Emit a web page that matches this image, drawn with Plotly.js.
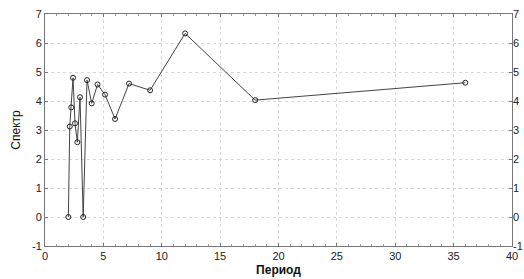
<!DOCTYPE html>
<html>
<head>
<meta charset="utf-8">
<script src="https://cdn.plot.ly/plotly-3.0.1.min.js"></script>
<style>html,body{margin:0;padding:0;background:#fff;}#chart{width:524px;height:279px;}</style>
</head>
<body>
<div id="chart"></div>
<script>
// Period (36/k) and spectrum values
var periods = [36, 18, 12, 9, 7.2, 6, 5.14, 4.5, 4, 3.6, 3.27, 3, 2.77, 2.57, 2.4, 2.25, 2.12, 2];
var spectrum = [4.63, 4.03, 6.33, 4.37, 4.6, 3.38, 4.22, 4.57, 3.92, 4.72, 0.0, 4.13, 2.58, 3.23, 4.8, 3.78, 3.12, 0.0];
var yTicks = [-1, 0, 1, 2, 3, 4, 5, 6, 7];
var xTicks = [0, 5, 10, 15, 20, 25, 30, 35, 40];
var xTitle = 'Период';
var yTitle = 'Спектр';

var font = {family: 'Liberation Sans, Arial, sans-serif', size: 11, color: '#222'};

var traces = [
  {
    x: periods, y: spectrum, type: 'scatter', mode: 'lines+markers',
    line: {color: '#444', width: 1},
    marker: {symbol: 'circle-open', size: 5, color: '#222', line: {width: 1, color: '#222'}},
    cliponaxis: false, hoverinfo: 'skip'
  },
  {
    x: periods, y: spectrum, type: 'scatter', mode: 'markers', yaxis: 'y2',
    marker: {opacity: 0}, hoverinfo: 'skip', showlegend: false
  }
];

var layout = {
  width: 524, height: 279,
  margin: {l: 45, r: 12, t: 14, b: 33, pad: 0},
  paper_bgcolor: '#fff', plot_bgcolor: '#fff',
  showlegend: false,
  font: font,
  xaxis: {
    range: [0, 40], tickvals: xTicks, ticktext: xTicks.map(String),
    showgrid: true, gridcolor: '#d8d8d8', griddash: 'dot', gridwidth: 1,
    zeroline: false, showline: true, linecolor: '#777', linewidth: 1, mirror: 'ticks',
    ticks: 'inside', ticklen: 3, tickcolor: '#777',
    minor: {dtick: 1, ticks: 'inside', ticklen: 2, tickcolor: '#999', showgrid: false},
    tickfont: font,
    title: {text: xTitle, font: {family: 'Liberation Sans, Arial, sans-serif', size: 12, color: '#111', weight: 'bold'}, standoff: 4}
  },
  yaxis: {
    range: [-1, 7], tickvals: yTicks, ticktext: yTicks.map(String),
    showgrid: true, gridcolor: '#d8d8d8', griddash: 'dot', gridwidth: 1,
    zeroline: false, showline: true, linecolor: '#777', linewidth: 1, mirror: true,
    ticks: 'inside', ticklen: 3, tickcolor: '#777',
    tickfont: font,
    title: {text: yTitle, font: {family: 'Liberation Sans, Arial, sans-serif', size: 12, color: '#111'}, standoff: 8}
  },
  yaxis2: {
    overlaying: 'y', side: 'right', range: [-1, 7], tickvals: yTicks, ticktext: yTicks.map(String),
    showgrid: false, zeroline: false, showline: false,
    ticks: 'inside', ticklen: 3, tickcolor: '#777', tickfont: font
  }
};

Plotly.newPlot('chart', traces, layout, {staticPlot: true, displayModeBar: false});
</script>
</body>
</html>
